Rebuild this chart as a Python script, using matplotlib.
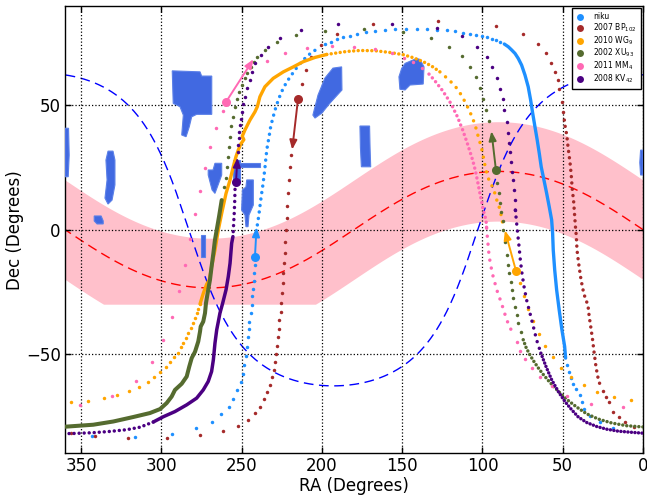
import numpy as np
import matplotlib
matplotlib.use("Agg")
import matplotlib.pyplot as plt
from matplotlib.lines import Line2D

plt.rcParams['font.family'] = ['DejaVu Sans']

# ---------------- reference curves ----------------
OBLIQUITY = 23.44          # ecliptic
NGP_RA, NGP_DEC = 192.86, 27.13   # galactic north pole
BAND_HALF = 20.0
BAND_FLOOR = -30.0

# ---------------- survey fields (RA, Dec) ----------------
field_a = [(293.2, 63.9), (275.9, 63.5), (274.9, 61.8), (268.6, 61.8), (268.6, 46.4), (278.0, 46.4),
           (281.1, 45.4), (282.6, 41.4), (284.6, 37.4), (287.3, 38.1), (286.3, 46.1), (288.4, 49.5), (292.6, 50.8)]
field_b = [(360.0, 40.8), (357.8, 40.8), (357.4, 30.0), (358.0, 21.3), (360.0, 21.3)]
field_c = [(333.2, 31.6), (330.1, 31.6), (328.9, 28.0), (328.9, 18.0), (330.7, 11.9), (333.2, 10.3),
           (335.1, 12.7), (333.8, 20.0), (334.5, 28.0)]
field_d = [(341.8, 5.5), (337.5, 5.5), (336.2, 3.5), (336.2, 2.3), (340.0, 2.3), (341.8, 3.5)]
field_e = [(265.5, 26.7), (262.4, 26.7), (262.4, 22.0), (264.7, 17.9), (266.6, 14.6), (268.4, 16.0),
           (270.8, 22.0), (270.8, 24.0), (267.8, 24.0), (266.6, 26.7)]
field_f = [(255.4, 28.0), (251.0, 28.0), (251.0, 26.8), (238.6, 26.8), (238.6, 25.2), (251.0, 25.2),
           (251.0, 19.2), (255.4, 19.2)]
field_g = [(246.8, 20.0), (242.7, 20.0), (242.7, 9.9), (245.4, 5.9), (246.0, 1.2), (247.3, 1.2),
           (247.9, 5.9), (250.0, 7.9), (249.5, 16.0), (247.3, 17.2)]
field_h = [(275.3, -2.1), (272.8, -2.1), (272.8, -10.9), (275.3, -10.9)]
field_i = [(193.1, 65.0), (187.7, 65.5), (187.5, 56.2), (195.0, 50.9), (200.0, 46.9), (204.3, 44.9),
           (205.6, 46.1), (202.4, 54.2), (198.1, 61.0)]
field_j = [(176.3, 41.7), (170.3, 41.7), (170.0, 33.0), (169.6, 25.3), (175.4, 25.3), (176.0, 33.0)]
field_k = [(148.2, 66.9), (141.0, 68.9), (138.9, 68.5), (136.4, 65.5), (136.9, 58.6), (145.1, 58.2),
           (148.2, 56.2), (151.4, 56.5), (152.0, 61.5), (150.3, 64.9)]
field_l = [(0.0, 32.0), (1.5, 32.0), (2.0, 27.0), (1.5, 22.0), (0.0, 22.0)]
fields = [field_a, field_b, field_c, field_d, field_e, field_f, field_g, field_h, field_i, field_j, field_k, field_l]

# ---------------- objects ----------------
names = ['niku', '2007 BP$_{102}$', '2010 WG$_{9}$', '2002 XU$_{93}$', '2011 MM$_{4}$', '2008 KV$_{42}$']
colors = ['#1E90FF', '#A52A2A', '#FFA500', '#556B2F', '#FF69B4', '#4B0082']

# current position and motion arrow tip (RA, Dec)
current = [(241.7, -11.1), (214.9, 52.4), (79.1, -16.6), (91.6, 24.0), (259.7, 51.4), (253.5, 19.1)]
arrow_tip = [(240.7, 1.0), (218.5, 32.2), (86.0, -0.3), (94.4, 39.6), (242.6, 68.6), (252.6, 29.0)]

# --- niku ---
niku_dots = [(343.4, -83.2), (316.4, -83.5), (293.5, -82.1), (278.4, -80.0), (268.7, -77.3), (262.7, -74.2),
             (258.1, -71.3), (255.2, -68.1), (252.7, -64.7), (250.6, -61.2), (249.1, -58.0), (248.3, -54.4),
             (247.3, -50.8), (246.5, -47.4), (246.2, -43.3), (245.6, -40.1), (245.2, -37.0), (244.2, -33.6),
             (243.7, -30.4), (243.5, -26.9), (242.9, -23.7), (242.5, -20.5), (242.1, -17.3), (241.7, -14.2),
             (197.9, 74.9), (194.5, 75.6), (190.8, 76.6), (187.0, 77.4), (182.5, 78.0), (177.9, 78.8),
             (172.7, 79.5), (166.9, 79.9), (160.7, 80.3), (154.5, 80.6), (147.8, 80.7), (141.0, 80.7),
             (134.4, 80.6), (128.5, 80.4), (122.3, 80.2), (117.1, 79.9), (112.3, 79.2), (107.8, 78.7),
             (104.0, 78.3), (100.5, 77.9), (97.4, 77.4), (94.3, 76.8), (91.6, 76.3), (89.1, 75.6),
             (47.4, -54.4), (46.3, -57.1), (44.9, -59.6), (43.4, -62.0), (41.8, -64.3), (39.5, -66.7),
             (38.2, -69.5), (36.6, -72.2), (32.9, -74.8), (26.8, -77.4), (18.5, -79.9)]
niku_run = [(240.2, 1.9), (239.4, 5.2), (238.6, 9.3), (237.8, 13.3), (236.9, 17.3), (236.1, 21.3),
            (235.4, 25.3), (234.8, 29.4), (234.0, 33.4), (232.9, 37.4), (231.9, 41.4), (230.6, 44.8),
            (229.2, 48.1), (227.5, 51.5), (225.7, 54.6), (223.6, 57.5), (221.1, 60.2), (218.2, 62.9),
            (215.3, 65.5), (212.0, 68.0), (208.5, 70.2), (205.0, 71.9), (201.2, 73.3)]
niku_dense = [(86.4, 74.7), (83.9, 73.6), (81.8, 72.3), (79.7, 70.9), (77.7, 68.9), (75.6, 66.2),
              (73.5, 62.2), (71.5, 57.5), (70.0, 52.2), (68.7, 46.8), (67.3, 41.4), (65.9, 36.1),
              (64.6, 30.7), (63.4, 25.3), (61.7, 20.0), (60.0, 14.6), (58.4, 9.2), (56.9, 3.9),
              (56.3, -1.4), (55.9, -8.2), (55.0, -16.2), (53.8, -24.2), (52.2, -32.3), (50.5, -40.3),
              (48.8, -47.0), (48.2, -51.7)]

# --- 2007 BP102 ---
bp_dots = [(212.6, 58.6), (210.1, 64.2), (206.8, 69.3), (200.6, 74.3), (190.4, 78.8), (168.4, 82.6),
           (127.5, 84.0), (91.6, 82.0), (74.6, 78.6), (65.6, 74.7), (60.7, 70.9), (57.5, 67.2),
           (54.8, 63.5), (53.2, 60.2), (52.2, 56.6), (50.7, 51.5), (50.0, 47.4),
           (219.1, 30.0), (219.9, 25.3), (220.3, 20.0), (220.9, 14.6), (221.6, 9.5), (222.0, 4.6),
           (222.2, -0.1), (222.8, -4.8), (223.0, -9.2), (223.6, -13.5), (224.0, -17.5), (224.4, -21.6),
           (224.9, -25.6), (225.3, -29.4), (225.7, -33.0), (226.5, -36.3), (226.9, -40.1), (227.3, -43.3),
           (228.0, -46.8), (228.6, -50.0), (229.2, -53.1), (230.0, -56.4), (231.1, -59.4), (232.5, -62.4),
           (234.0, -65.4), (235.9, -68.2), (238.4, -71.2), (241.5, -73.8), (245.8, -76.5), (252.1, -78.9),
           (261.4, -81.1), (275.9, -82.8), (296.7, -83.9), (321.0, -83.9), (341.5, -83.2), (356.0, -82.0),
           (25.1, -65.1), (23.3, -67.2), (21.0, -69.2), (18.5, -73.2), (15.2, -75.4), (11.0, -77.6), (5.4, -79.5)]
bp_run = [(49.0, 44.1), (48.4, 41.2), (47.5, 38.1), (46.6, 32.7), (45.5, 27.3), (44.7, 22.0), (44.1, 16.6),
          (43.2, 11.3), (42.6, 5.9), (42.0, 0.6), (41.6, -2.1), (41.1, -8.2), (40.1, -13.5), (38.9, -18.9),
          (37.6, -23.6), (36.0, -27.6), (34.3, -30.3), (33.5, -35.0), (32.4, -39.7), (31.4, -44.3),
          (30.4, -49.7), (29.3, -55.1), (28.2, -59.1), (26.8, -62.4)]

# --- 2010 WG9 ---
wg_dots = [(76.6, -21.3), (73.9, -26.7), (71.5, -31.9), (68.3, -36.7), (64.6, -41.9), (60.9, -46.8),
           (56.3, -51.3), (51.1, -55.5), (44.9, -59.2), (37.0, -62.6), (28.5, -65.4), (18.3, -67.3),
           (7.5, -68.6), (356.3, -69.2), (345.5, -68.8), (335.5, -67.8), (327.4, -66.7), (320.0, -65.1),
           (314.1, -63.3), (308.5, -61.4), (304.4, -59.1), (300.8, -57.2), (297.3, -55.1), (294.6, -53.3),
           (292.1, -51.3), (289.8, -49.5), (288.0, -47.4), (286.3, -45.7), (284.6, -43.7), (283.2, -41.7),
           (281.7, -39.6), (280.5, -37.6), (279.0, -35.6), (278.0, -33.6), (277.0, -31.9), (275.9, -29.9)]
wg_dense = [(275.9, -29.9), (273.8, -25.5), (271.8, -22.0), (270.1, -20.2), (268.7, -14.9), (266.6, -8.2),
            (264.5, -0.1), (262.4, 6.6), (259.7, 14.6), (257.2, 20.0), (255.2, 25.3), (253.5, 29.4),
            (252.1, 32.0), (250.6, 34.4), (248.6, 36.2), (249.6, 37.6), (248.0, 40.0), (244.8, 44.1),
            (241.7, 47.4), (240.2, 49.5), (238.6, 53.5), (235.5, 57.5), (230.3, 60.9), (224.0, 63.5),
            (217.8, 65.5), (211.6, 67.6), (204.3, 69.3), (197.0, 70.5)]
wg_run_close = [(197.0, 70.5), (192.9, 70.9), (184.6, 71.7), (176.3, 72.1), (166.9, 72.0), (157.6, 71.3),
                (149.3, 70.4), (143.1, 69.2), (136.9, 67.6), (131.6, 65.8), (126.5, 63.5)]
wg_run_wide = [(126.5, 63.5), (122.3, 61.1), (118.2, 58.6), (115.1, 56.2), (112.3, 53.2), (109.8, 50.1),
               (107.8, 47.4), (105.7, 44.1), (104.0, 40.8), (102.6, 37.4), (101.1, 34.1), (99.9, 31.0),
               (98.9, 27.3), (97.8, 24.0), (96.4, 20.7), (94.3, 18.0), (92.4, 14.9), (90.8, 11.3),
               (89.1, 8.2), (88.0, 4.6), (87.0, 1.2)]

# --- 2002 XU93 ---
xu_dense = [(360.0, -79.3), (342.4, -78.5), (329.9, -77.2), (317.5, -75.4), (307.1, -73.8), (300.8, -72.2),
            (296.7, -69.8), (293.6, -67.2), (291.5, -64.5), (287.3, -62.0), (284.2, -59.1), (282.6, -55.1),
            (281.1, -51.7), (279.0, -49.1), (277.0, -45.0), (275.9, -41.0), (275.5, -39.0), (273.9, -37.0),
            (272.8, -33.6), (272.2, -29.6), (270.8, -24.2), (269.7, -20.2), (268.7, -14.9), (267.6, -9.5),
            (266.6, -4.1), (265.5, -0.1), (264.0, 5.5), (262.4, 11.9)]
xu_dots = [(261.0, 17.3), (259.9, 20.7), (259.3, 25.3), (258.7, 29.4), (258.0, 33.4), (257.2, 37.4),
           (256.4, 41.7), (255.6, 45.4), (254.1, 49.2), (252.7, 52.4), (251.4, 55.5), (250.0, 58.2),
           (248.1, 60.9), (246.5, 63.1), (244.4, 65.5), (242.3, 67.6), (240.4, 69.5), (235.5, 72.4),
           (228.0, 75.5), (216.0, 78.2), (198.0, 80.1), (173.6, 80.7), (149.3, 79.4), (132.1, 77.0),
           (120.7, 73.6), (113.0, 69.9), (107.8, 65.6), (104.2, 61.4), (101.6, 57.1), (99.5, 52.5),
           (97.6, 48.1), (96.0, 43.8),
           (90.8, 18.7), (89.7, 14.6), (89.1, 10.9), (88.3, 7.1), (87.4, 3.5), (87.0, -0.1), (86.2, -5.0),
           (84.9, -10.2), (84.1, -14.2), (83.3, -17.5), (82.4, -20.9), (81.6, -24.2), (80.8, -27.6),
           (79.7, -31.0), (78.7, -34.3), (77.7, -37.6), (76.2, -41.0)]
xu_run = [(74.6, -44.3), (72.9, -47.3), (70.8, -50.0), (68.3, -52.7), (65.6, -55.3), (62.5, -58.0),
          (59.0, -60.7), (55.2, -63.4), (51.1, -66.1), (46.5, -68.8), (41.3, -71.4), (35.1, -74.1),
          (27.9, -76.2), (19.5, -77.8), (10.2, -78.9), (0.0, -79.4)]

# --- 2011 MM4 ---
mm_dots = [(261.8, 47.9), (266.0, 40.8), (269.7, 33.1), (272.8, 24.7), (275.9, 15.7), (278.8, 6.2),
           (282.2, -3.9), (285.3, -14.2), (288.8, -24.6), (293.2, -35.0), (298.8, -44.4), (306.0, -53.3),
           (315.8, -61.0), (330.5, -67.0), (350.5, -70.7), (12.7, -71.4), (32.4, -70.0), (47.2, -66.9),
           (56.9, -63.1), (64.2, -59.4), (69.4, -55.5), (73.4, -52.1), (76.6, -48.7), (78.7, -45.4),
           (234.4, 68.0), (223.0, 70.9), (209.5, 72.9), (194.0, 73.9), (179.8, 73.7), (166.9, 72.5),
           (156.5, 70.9), (148.7, 69.2), (143.1, 67.6), (137.5, 64.9)]
mm_run_close = [(133.3, 62.6), (130.0, 60.2), (127.1, 57.8), (124.8, 55.9), (122.7, 53.8), (120.7, 51.9),
                (118.8, 49.7), (117.1, 47.4), (115.4, 45.2), (114.0, 42.8), (112.3, 40.1), (109.4, 34.7),
                (106.1, 28.0), (104.5, 24.0), (103.2, 20.0), (102.0, 16.0), (100.7, 11.9), (99.5, 7.9),
                (97.8, 3.9), (97.4, 0.6)]
mm_run_wide = [(97.4, 0.6), (96.8, -4.0), (95.8, -10.9), (93.9, -17.5), (91.1, -24.2), (88.0, -29.9),
               (84.9, -36.3), (80.8, -42.3)]

# --- 2008 KV42 ---
kv_dots = [(252.4, 31.4), (252.1, 34.1), (251.8, 36.8), (251.4, 39.4), (251.0, 42.1), (250.4, 44.5),
           (249.6, 47.4), (249.0, 50.5), (247.9, 53.5), (246.9, 56.9), (244.8, 60.2), (243.7, 63.5),
           (241.5, 66.9), (238.1, 70.2), (233.4, 73.7), (226.1, 77.1), (213.2, 80.2), (190.2, 82.6),
           (156.5, 82.9), (128.2, 81.1), (112.5, 77.8), (103.6, 73.6), (97.4, 69.6), (93.9, 65.5),
           (91.0, 60.9), (89.1, 56.6), (87.4, 52.4), (86.4, 48.1), (84.9, 43.4), (84.0, 39.0),
           (83.5, 34.7), (82.8, 31.4), (82.1, 27.3), (81.6, 23.3), (81.2, 20.0), (80.6, 16.0),
           (80.0, 11.9), (79.5, 7.9)]
kv_run_wide = [(79.5, 7.9), (78.9, 3.9), (78.3, 0.0), (77.2, -6.8), (76.4, -12.2), (75.4, -17.5),
               (74.1, -22.9), (72.5, -28.3), (70.4, -33.6), (68.3, -39.0), (66.3, -44.3), (63.6, -49.7)]
kv_run_close = [(63.6, -49.7), (60.4, -55.1), (56.9, -60.4), (52.8, -65.1), (48.6, -69.2), (44.4, -72.5),
                (40.3, -75.4), (35.1, -77.6), (28.9, -79.2), (22.6, -80.3), (15.4, -81.1), (8.1, -81.5),
                (0.0, -81.9)]
kv_run_left = [(254.1, 16.2), (254.3, 11.3), (254.6, 6.6), (255.0, 1.9), (255.4, -2.8)]
kv_dense = [(255.4, -2.8), (256.2, -5.5), (257.2, -13.5), (258.3, -18.9), (259.7, -24.2), (261.8, -29.6),
            (263.5, -33.6), (264.5, -37.0), (265.5, -40.3), (266.6, -45.7), (267.6, -52.4), (268.7, -57.1),
            (270.8, -61.1), (273.9, -64.5), (278.0, -67.8), (284.2, -70.5), (291.5, -73.2), (298.8, -75.3),
            (305.0, -77.4)]
kv_run_far = [(305.0, -77.4), (313.3, -79.5), (321.6, -80.5), (332.0, -81.2), (342.4, -81.7),
              (353.8, -82.0), (360.0, -82.1)]

# ---------------- drawing ----------------
fig = plt.figure(figsize=(6.47, 4.98), dpi=100)
ax = fig.add_axes([65 / 647, 44.7 / 498, 578 / 647, 447.3 / 498])
ax.set_xlim(360, 0)
ax.set_ylim(-90, 90)

ra_grid = np.linspace(0, 360, 1441)
ecl = np.degrees(np.arctan(np.tan(np.radians(OBLIQUITY)) * np.sin(np.radians(ra_grid))))
gal = np.degrees(np.arctan(-np.cos(np.radians(ra_grid - NGP_RA)) / np.tan(np.radians(NGP_DEC))))
ax.fill_between(ra_grid, np.maximum(ecl - BAND_HALF, BAND_FLOOR), ecl + BAND_HALF,
                color='pink', lw=0, zorder=1)
ax.plot(ra_grid, ecl, color='red', lw=1, dashes=(7, 4), zorder=2)
ax.plot(ra_grid, gal, color='blue', lw=1, dashes=(7, 4), zorder=2)

for f in fields:
    fr, fd = np.array(f).T
    ax.fill(fr, fd, facecolor='#4169E1', edgecolor='#5b80e8', lw=0.8, zorder=3)

DOT = 2.5  # dot diameter in points


def xy(pts):
    return np.array(pts).T


def dots(pts, c, z):
    r, d = xy(pts)
    ax.plot(r, d, 'o', ms=DOT, mew=0, color=c, zorder=z)


def run(pts, c, z, spacing_px):
    r, d = xy(pts)
    gap = spacing_px * 0.72 / DOT
    ax.plot(r, d, color=c, lw=DOT, linestyle=(0, (0.01, gap)), dash_capstyle='round', zorder=z)


def dense(pts, c, z, lw):
    r, d = xy(pts)
    ax.plot(r, d, color=c, lw=lw, solid_capstyle='round', solid_joinstyle='round', zorder=z)


c = colors
# niku
dots(niku_dots, c[0], 5.0); run(niku_run, c[0], 5.0, 6.5); dense(niku_dense, c[0], 5.0, 2.4)
# BP102
dots(bp_dots, c[1], 5.1); run(bp_run, c[1], 5.1, 6.3)
# WG9
dots(wg_dots, c[2], 5.2); dense(wg_dense, c[2], 5.2, 2.4)
run(wg_run_close, c[2], 5.2, 4.5); run(wg_run_wide, c[2], 5.2, 7.5)
# XU93
dense(xu_dense, c[3], 5.3, 2.9); dots(xu_dots, c[3], 5.3); run(xu_run, c[3], 5.3, 4.0)
# MM4
dots(mm_dots, c[4], 5.4); run(mm_run_close, c[4], 5.4, 5.0); run(mm_run_wide, c[4], 5.4, 8.0)
# KV42
dots(kv_dots, c[5], 5.5); run(kv_run_wide, c[5], 5.5, 7.0); run(kv_run_close, c[5], 5.5, 3.5)
run(kv_run_left, c[5], 5.5, 6.0); dense(kv_dense, c[5], 5.5, 2.5); run(kv_run_far, c[5], 5.5, 5.0)

for i, (p0, p1) in enumerate(zip(current, arrow_tip)):
    ax.annotate('', xy=p1, xytext=p0,
                arrowprops=dict(arrowstyle='-|>,head_length=0.55,head_width=0.22', color=c[i],
                                lw=1.4, shrinkA=0, shrinkB=0), zorder=6 + i * 0.1)
    ax.plot(p0[0], p0[1], 'o', ms=6.5, mew=0, color=c[i], zorder=6 + i * 0.1)

ax.set_xticks([350, 300, 250, 200, 150, 100, 50, 0])
ax.set_yticks([-50, 0, 50])
ax.tick_params(direction='in', top=True, right=True, length=4, width=1, labelsize=12)
ax.tick_params(axis='x', pad=2.5)
ax.tick_params(axis='y', pad=3)
ax.grid(True, color='black', ls=':', lw=0.9)
ax.set_axisbelow(False)
for s in ax.spines.values():
    s.set_linewidth(1.0)
ax.set_xlabel('RA (Degrees)', fontsize=12, labelpad=1.5)
ax.set_ylabel('Dec (Degrees)', fontsize=12, labelpad=1.5)

handles = [Line2D([], [], ls='none', marker='o', ms=5, mew=0, color=col) for col in colors]
leg = ax.legend(handles, names, loc='upper right', fontsize=5.5, numpoints=1, labelspacing=0.02,
                borderaxespad=0.3, handlelength=1.0, handletextpad=1.2, borderpad=0.55,
                fancybox=False, framealpha=1, edgecolor='black')
leg.get_frame().set_linewidth(1.0)
leg.set_zorder(10)

fig.savefig('out.png', dpi=100)
